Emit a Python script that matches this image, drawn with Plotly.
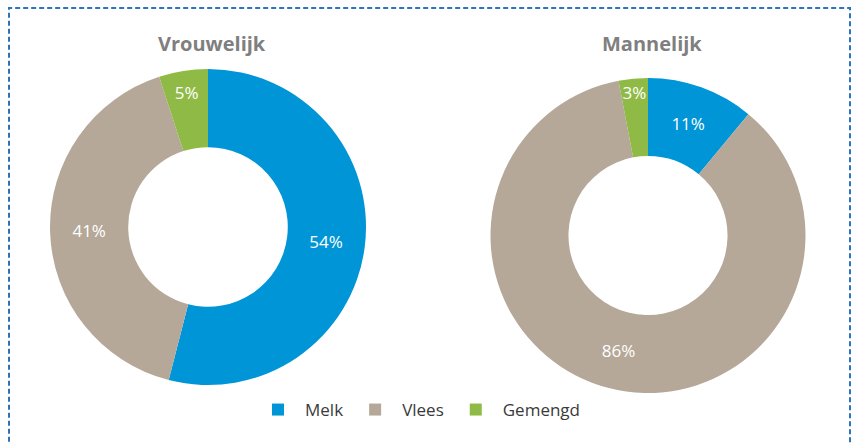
import plotly.graph_objects as go

categories = ["Melk", "Vlees", "Gemengd"]
vrouwelijk = [54, 41, 5]
mannelijk = [11, 86, 3]
titles = ["Vrouwelijk", "Mannelijk"]
colors = ["#0095D6", "#B5A898", "#8FBA45"]

W, H = 853, 443

def dom(x0, x1, ytop, ybot):
    return dict(x=[x0 / W, x1 / W], y=[(H - ybot) / H, (H - ytop) / H])

fig = go.Figure()
for vals, d, show in [(vrouwelijk, dom(50, 366, 69, 385), True),
                      (mannelijk, dom(490, 806, 78, 393), False)]:
    fig.add_trace(go.Pie(
        labels=categories, values=vals, hole=0.505, sort=False,
        direction="clockwise", rotation=0,
        marker=dict(colors=colors, line=dict(width=0)),
        texttemplate="%{value}%", textposition="inside",
        insidetextorientation="horizontal",
        textfont=dict(color="white", size=17, family="Open Sans"),
        domain=d, showlegend=show, hoverinfo="label+value",
    ))

for t, x in zip(titles, [212, 652]):
    fig.add_annotation(text=f"<b>{t}</b>", x=x / W, y=(H - 44) / H, xref="paper", yref="paper",
                       xanchor="center", yanchor="middle",
                       showarrow=False, font=dict(size=20, color="#7F7F7F", family="Open Sans"))

fig.add_shape(type="rect", xref="paper", yref="paper",
              x0=9 / W, x1=850 / W, y0=-0.05, y1=(H - 8) / H,
              line=dict(color="#2E75B6", width=2, dash="5px,3px"))

fig.update_layout(
    width=W, height=H, margin=dict(l=0, r=0, t=0, b=0),
    paper_bgcolor="white", plot_bgcolor="white",
    font=dict(family="Open Sans", color="#333333"),
    uniformtext=dict(minsize=17, mode="show"),
    legend=dict(orientation="h", x=0.5 - 8 / W, xanchor="center", y=(H - 410) / H, yanchor="middle",
                font=dict(size=17, color="#3A3A3A"), itemwidth=44, traceorder="normal"),
)

fig.write_html("out.html", config={"displayModeBar": False},
               post_script="document.body.style.margin='0px';")
